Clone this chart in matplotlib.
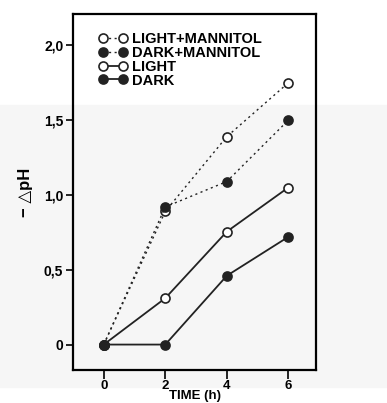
import numpy as np
from matplotlib import pyplot as plt
from matplotlib import rcParams
from matplotlib.patches import Rectangle

rcParams.update({
    'font.family': ['Liberation Sans', 'DejaVu Sans'], 'font.weight': 'bold', 'font.size': 10,
    'axes.linewidth': 1.6,
    'xtick.direction': 'out', 'ytick.direction': 'out',
    'xtick.major.size': 6.5, 'ytick.major.size': 5.0,
    'xtick.major.width': 1.2, 'ytick.major.width': 1.2,
})

# data
time_h = [0, 2, 4, 6]
light_mannitol = [0.0, 0.89, 1.39, 1.75]
dark_mannitol = [0.0, 0.92, 1.09, 1.50]
light = [0.0, 0.31, 0.755, 1.05]
dark = [0.0, 0.0, 0.46, 0.72]

yticks = [0, 0.5, 1.0, 1.5, 2.0]
ytick_labels = ["0", "0,5", "1,0", "1,5", "2,0"]
xticks = [0, 2, 4, 6]

fig = plt.figure(figsize=(3.87, 4.03), dpi=100)
# faint gray scan band
fig.patches.append(Rectangle((0, 0.04), 1, 0.70, transform=fig.transFigure,
                             color='#f6f6f6', zorder=-1))
ax = fig.add_axes([0.1886, 0.0819, 0.628, 0.8834])
ax.set_zorder(2)
ax.patch.set_alpha(0)

lkw = dict(color='#222222', markersize=6.5, markeredgewidth=1.2, markeredgecolor='#222222')
ax.plot(time_h, light_mannitol, ls=(0, (1.5, 2.5)), lw=1.0, marker='o',
        markerfacecolor='white', label='LIGHT+MANNITOL', **lkw)
ax.plot(time_h, dark_mannitol, ls=(0, (1.5, 2.5)), lw=1.0, marker='o',
        markerfacecolor='#222222', label='DARK+MANNITOL', **lkw)
ax.plot(time_h, light, ls='-', lw=1.3, marker='o',
        markerfacecolor='white', label='LIGHT', **lkw)
ax.plot(time_h, dark, ls='-', lw=1.3, marker='o',
        markerfacecolor='#222222', label='DARK', **lkw)

ax.set_xlim(-1.0, 6.9)
ax.set_ylim(-0.17, 2.21)
ax.set_xticks(xticks)
ax.set_yticks(yticks)
ax.set_yticklabels(ytick_labels)
ax.tick_params(axis='y', labelsize=10, pad=2)
ax.tick_params(axis='x', labelsize=9.5, pad=1)
ax.set_xlabel("TIME (h)", fontsize=9.5, fontweight='bold')
ax.xaxis.set_label_coords(0.5, -0.073)
ax.xaxis.label.set_va('center')
ax.set_ylabel("− \u25b3pH", fontsize=12, fontweight='bold', labelpad=8)

leg = ax.legend(loc='upper left', bbox_to_anchor=(0.05, 0.985), numpoints=2,
                handlelength=2.0, handletextpad=0.3, labelspacing=-0.02,
                frameon=False, prop={'weight': 'bold', 'size': 10.5})

fig.savefig("out.png", dpi=100)
